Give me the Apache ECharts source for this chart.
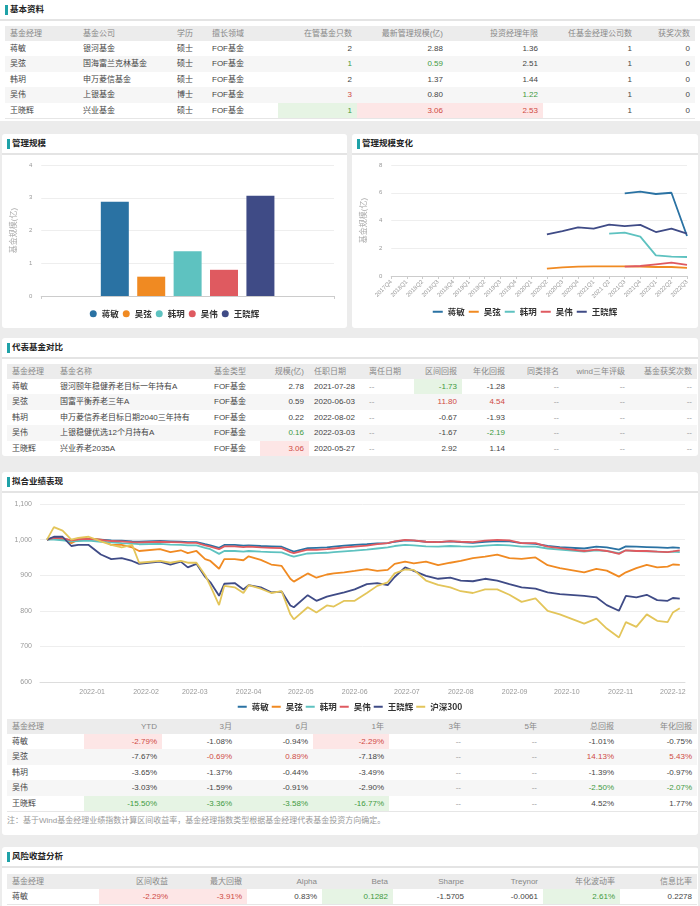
<!DOCTYPE html>
<html>
<head>
<meta charset="utf-8">
<script src="https://cdn.jsdelivr.net/npm/echarts@6/dist/echarts.min.js"></script>
<style>
body{margin:0;width:700px;height:906px;overflow:hidden;background:#ececec;position:relative;
  font-family:"Liberation Sans","Noto Sans CJK SC",sans-serif;font-size:8px;color:#444}
.panel{position:absolute;background:#fff;border-radius:3px;overflow:hidden}
.title{position:absolute;left:0;top:0;right:0;height:19px;line-height:19px;border-bottom:2px solid #e4e4e4;
  padding-left:10px;font-weight:bold;font-size:8.5px;color:#222}
.title:before{content:"";position:absolute;left:5px;top:5px;width:3px;height:10px;background:#1fa2a8}
table{position:absolute;left:5px;border-collapse:collapse;table-layout:fixed;border-bottom:1px solid #e6e6e6}
th,td{padding:0 5px;white-space:nowrap;overflow:hidden;font-weight:normal}
th{background:#ececec;color:#888;height:15px;line-height:15px}
td{height:15.4px;line-height:15.4px;color:#444}
tbody tr:nth-child(even) td{background:#f6f6f6}
.r{text-align:right}.l{text-align:left}
table td.up{background:#fde6e6;color:#cf4a44}
table td.dn{background:#e6f4e4;color:#3f9a3f}
table td.na{color:#999}
.chart{position:absolute;left:0}
.note{position:absolute;left:5px;color:#999;font-size:8px}
</style>
</head>
<body>

<div class="panel" style="left:0;top:0;width:700px;height:121px;border-radius:0">
  <div class="title">基本资料</div>
  <table id="t1" style="top:26px"></table>
</div>

<div class="panel" style="left:2px;top:134px;width:345px;height:194px">
  <div class="title">管理规模</div>
  <div id="bar" class="chart" style="top:20px;width:345px;height:174px"></div>
</div>

<div class="panel" style="left:352px;top:134px;width:346px;height:194px">
  <div class="title">管理规模变化</div>
  <div id="scale" class="chart" style="top:20px;width:346px;height:174px"></div>
</div>

<div class="panel" style="left:2px;top:338px;width:696px;height:118px">
  <div class="title">代表基金对比</div>
  <table id="t2" style="top:26px"></table>
</div>

<div class="panel" style="left:2px;top:472px;width:696px;height:363px">
  <div class="title">拟合业绩表现</div>
  <div id="perf" class="chart" style="top:21px;width:696px;height:226px"></div>
  <table id="t3" style="top:247px"></table>
  <div class="note" style="top:342px">注：基于Wind基金经理业绩指数计算区间收益率，基金经理指数类型根据基金经理代表基金投资方向确定。</div>
</div>

<div class="panel" style="left:2px;top:847px;width:696px;height:70px">
  <div class="title">风险收益分析</div>
  <table id="t4" style="top:27px"></table>
</div>

<script>
// ---- 基本资料 ----
var managers = ['蒋敏', '吴弦', '韩玥', '吴伟', '王晓辉'];
var companies = ['银河基金', '国海富兰克林基金', '申万菱信基金', '上银基金', '兴业基金'];
var education = ['硕士', '硕士', '硕士', '博士', '硕士'];
var fields = ['FOF基金', 'FOF基金', 'FOF基金', 'FOF基金', 'FOF基金'];
var fundCount = [2, 1, 2, 3, 1];
var latestScale = [2.88, 0.59, 1.37, 0.80, 3.06];
var tenureYears = [1.36, 2.51, 1.44, 1.22, 2.53];
var companyCount = [1, 1, 1, 1, 1];
var awards = [0, 0, 0, 0, 0];

// ---- 代表基金对比 ----
var repFunds = ['银河颐年稳健养老目标一年持有A', '国富平衡养老三年A', '申万菱信养老目标日期2040三年持有', '上银稳健优选12个月持有A', '兴业养老2035A'];
var repTypes = ['FOF基金', 'FOF基金', 'FOF基金', 'FOF基金', 'FOF基金'];
var repScale = [2.78, 0.59, 0.22, 0.16, 3.06];
var repStart = ['2021-07-28', '2020-06-03', '2022-08-02', '2022-03-03', '2020-05-27'];
var repPeriodRet = [-1.73, 11.80, -0.67, -1.67, 2.92];
var repAnnualRet = [-1.28, 4.54, -1.93, -2.19, 1.14];

// ---- 拟合业绩表现 表格 (%) ----
var retYTD = [-2.79, -7.67, -3.65, -3.03, -15.50];
var ret3M = [-1.08, -0.69, -1.37, -1.59, -3.36];
var ret6M = [-0.94, 0.89, -0.44, -0.91, -3.58];
var ret1Y = [-2.29, -7.18, -3.49, -2.90, -16.77];
var retTotal = [-1.01, 14.13, -1.39, -2.50, 4.52];
var retAnnual = [-0.75, 5.43, -0.97, -2.07, 1.77];

// ---- 风险收益分析 ----
var riskHeaders = ['基金经理', '区间收益', '最大回撤', 'Alpha', 'Beta', 'Sharpe', 'Treynor', '年化波动率', '信息比率'];
var riskRow = ['蒋敏', '-2.29%', '-3.91%', '0.83%', '0.1282', '-1.5705', '-0.0061', '2.61%', '0.2278'];
var riskMarks = ['', 'up', 'up', '', 'dn', '', '', 'dn', ''];

// ---- 管理规模变化 (亿) ----
var quarters = ['2017Q4', '2018Q1', '2018Q2', '2018Q3', '2018Q4', '2019Q1', '2019Q2', '2019Q3', '2019Q4', '2020Q1',
  '2020Q2', '2020Q3', '2020Q4', '2021Q1', '2021 Q2', '2021Q3', '2021Q4', '2022Q1', '2022Q2', '2022Q3'];
var histJiangMin = [null, null, null, null, null, null, null, null, null, null, null, null, null, null, null, 5.95, 6.08, 5.91, 6.00, 2.88];
var histWuXian = [null, null, null, null, null, null, null, null, null, null, 0.53, 0.62, 0.67, 0.70, 0.70, 0.70, 0.67, 0.65, 0.65, 0.59];
var histHanYue = [null, null, null, null, null, null, null, null, null, null, null, null, null, null, 3.05, 3.12, 2.84, 1.49, 1.39, 1.37];
var histWuWei = [null, null, null, null, null, null, null, null, null, null, null, null, null, null, null, 0.67, 0.72, 0.84, 0.96, 0.80];
var histWang = [null, null, null, null, null, null, null, null, null, null, 3.00, 3.24, 3.50, 3.41, 3.70, 3.60, 3.68, 3.17, 3.41, 3.06];

// ---- 拟合业绩表现 曲线 ----
var perfDates = ['2021-12-06', '2021-12-10', '2021-12-15', '2021-12-20', '2021-12-24', '2021-12-30', '2022-01-06', '2022-01-12',
  '2022-01-18', '2022-01-24', '2022-01-28', '2022-02-09', '2022-02-15', '2022-02-21', '2022-02-25', '2022-03-02', '2022-03-07',
  '2022-03-10', '2022-03-15', '2022-03-18', '2022-03-24', '2022-03-29', '2022-04-01', '2022-04-08', '2022-04-14', '2022-04-20',
  '2022-04-25', '2022-04-27', '2022-05-05', '2022-05-10', '2022-05-16', '2022-05-20', '2022-05-26', '2022-06-01', '2022-06-08',
  '2022-06-14', '2022-06-20', '2022-06-24', '2022-06-30', '2022-07-05', '2022-07-12', '2022-07-19', '2022-07-26', '2022-08-01',
  '2022-08-08', '2022-08-15', '2022-08-22', '2022-08-29', '2022-09-05', '2022-09-13', '2022-09-20', '2022-09-27', '2022-10-11',
  '2022-10-18', '2022-10-24', '2022-10-31', '2022-11-04', '2022-11-10', '2022-11-16', '2022-11-22', '2022-11-28', '2022-12-01',
  '2022-12-05'];
var perfJiangMin = [1000, 1003, 1002, 998, 1000, 1002, 1000, 998, 997, 995, 994, 996, 995, 994, 993, 993, 987, 984, 977, 985,
  985, 983, 984, 982, 981, 980, 970, 966, 976, 977, 978, 980, 983, 985, 987, 989, 990, 994, 998, 997,
  994, 993, 995, 993, 991, 994, 996, 995, 990, 988, 982, 979, 975, 980, 978, 972, 981, 980, 979, 978, 977, 978, 977];
var perfWuXian = [1000, 1005, 1003, 990, 1000, 1003, 1000, 985, 985, 978, 968, 973, 965, 970, 962, 968, 945, 940, 918, 945,
  945, 942, 953, 943, 930, 926, 890, 882, 905, 893, 902, 905, 908, 912, 917, 912, 915, 932, 938, 933,
  938, 928, 935, 940, 948, 952, 958, 948, 946, 950, 928, 920, 908, 918, 913, 896, 908, 920, 929, 922, 924, 930, 929];
var perfHanYue = [1000, 1000, 998, 995, 996, 997, 994, 992, 990, 989, 987, 988, 986, 985, 984, 984, 977, 973, 960, 968,
  968, 966, 968, 966, 965, 964, 955, 952, 961, 962, 963, 965, 967, 969, 972, 975, 978, 982, 985, 984,
  981, 980, 982, 981, 980, 983, 985, 984, 980, 980, 975, 972, 966, 970, 968, 962, 970, 968, 967, 966, 965, 966, 965];
var perfWuWei = [1000, 1005, 1004, 998, 1001, 1002, 999, 996, 995, 993, 992, 994, 993, 992, 991, 991, 984, 980, 973, 981,
  981, 979, 980, 978, 977, 976, 965, 962, 972, 971, 973, 975, 978, 980, 983, 987, 990, 995, 999, 998,
  994, 993, 996, 994, 993, 997, 999, 998, 990, 990, 980, 976, 968, 972, 968, 960, 970, 968, 968, 966, 965, 967, 970];
var perfWang = [1000, 1008, 1008, 982, 985, 985, 958, 945, 948, 940, 932, 938, 930, 938, 922, 932, 895, 880, 842, 876,
  878, 860, 872, 866, 852, 854, 815, 810, 844, 828, 840, 845, 852, 860, 875, 878, 872, 895, 922, 912,
  898, 890, 893, 885, 883, 890, 885, 875, 866, 862, 852, 847, 842, 838, 816, 800, 842, 838, 845, 830, 828, 836, 834];
var perfHS300 = [1000, 1035, 1025, 1000, 1005, 1008, 995, 985, 978, 985, 935, 940, 935, 940, 935, 935, 900, 870, 816, 870,
  866, 850, 872, 862, 850, 855, 790, 776, 810, 795, 815, 812, 828, 828, 850, 870, 880, 905, 916, 915,
  885, 873, 866, 855, 850, 860, 860, 845, 825, 835, 800, 790, 764, 778, 750, 725, 768, 755, 790, 772, 768, 795, 807];

var colors = ['#2a72a3', '#f08a22', '#5ec2c0', '#df5a60', '#3f4b86', '#e3c55a'];
var cjk = '"Liberation Sans","Noto Sans CJK SC",sans-serif';

// ---------- tables ----------
function marks(arr) {
  var mx = Math.max.apply(null, arr), mn = Math.min.apply(null, arr);
  return arr.map(function (v) {
    if (mx === mn) return '';
    return v === mx ? 'up' : (v === mn ? 'dn' : '');
  });
}
function dash() { return managers.map(function () { return '--'; }); }
function fix(arr, d, suffix) { return arr.map(function (v) { return v.toFixed(d) + (suffix || ''); }); }

// cols: [header, align, values, marks]
function buildTable(id, widths, cols, rowCount) {
  var html = '<colgroup>' + widths.map(function (w) { return '<col style="width:' + w + 'px">'; }).join('') + '</colgroup>';
  html += '<thead><tr>' + cols.map(function (c) { return '<th class="' + c[1] + '">' + c[0] + '</th>'; }).join('') + '</tr></thead><tbody>';
  for (var i = 0; i < rowCount; i++) {
    html += '<tr>';
    cols.forEach(function (c) {
      var v = c[2][i], cls = c[1];
      if (c[3] && c[3][i]) cls += ' ' + c[3][i];
      if (v === '--') cls += ' na';
      html += '<td class="' + cls + '">' + v + '</td>';
    });
    html += '</tr>';
  }
  html += '</tbody>';
  var t = document.getElementById(id);
  t.innerHTML = html;
  t.style.width = widths.reduce(function (a, b) { return a + b; }, 0) + 'px';
}

buildTable('t1', [73, 94, 35, 71, 79, 91, 95, 94, 58], [
  ['基金经理', 'l', managers],
  ['基金公司', 'l', companies],
  ['学历', 'l', education],
  ['擅长领域', 'l', fields],
  ['在管基金只数', 'r', fundCount.map(String), marks(fundCount)],
  ['最新管理规模(亿)', 'r', fix(latestScale, 2), marks(latestScale)],
  ['投资经理年限', 'r', fix(tenureYears, 2), marks(tenureYears)],
  ['任基金经理公司数', 'r', companyCount.map(String), marks(companyCount)],
  ['获奖次数', 'r', awards.map(String)]
], 5);

buildTable('t2', [48, 154, 51, 49, 55, 50, 48, 48, 54, 66, 67], [
  ['基金经理', 'l', managers],
  ['基金名称', 'l', repFunds],
  ['基金类型', 'l', repTypes],
  ['规模(亿)', 'r', fix(repScale, 2), marks(repScale)],
  ['任职日期', 'l', repStart],
  ['离任日期', 'l', dash()],
  ['区间回报', 'r', fix(repPeriodRet, 2), marks(repPeriodRet)],
  ['年化回报', 'r', fix(repAnnualRet, 2), marks(repAnnualRet)],
  ['同类排名', 'r', dash()],
  ['wind三年评级', 'r', dash()],
  ['基金获奖次数', 'r', dash()]
], 5);

buildTable('t3', [77, 78, 75, 76, 76, 77, 76, 77, 78], [
  ['基金经理', 'l', managers],
  ['YTD', 'r', fix(retYTD, 2, '%'), marks(retYTD)],
  ['3月', 'r', fix(ret3M, 2, '%'), marks(ret3M)],
  ['6月', 'r', fix(ret6M, 2, '%'), marks(ret6M)],
  ['1年', 'r', fix(ret1Y, 2, '%'), marks(ret1Y)],
  ['3年', 'r', dash()],
  ['5年', 'r', dash()],
  ['总回报', 'r', fix(retTotal, 2, '%'), marks(retTotal)],
  ['年化回报', 'r', fix(retAnnual, 2, '%'), marks(retAnnual)]
], 5);

buildTable('t4', [92, 74, 74, 75, 71, 76, 74, 77, 77], riskHeaders.map(function (h, j) {
  return [h, j === 0 ? 'l' : 'r', [riskRow[j]], [riskMarks[j]]];
}), 1);

var legendText = { fontSize: 8.5, fontWeight: 'bold', color: '#333', fontFamily: '"Noto Sans CJK SC"' };

// ---------- 管理规模 bar ----------
var barChart = echarts.init(document.getElementById('bar'));
barChart.setOption({
  animation: false,
  color: colors,
  textStyle: { fontFamily: cjk },
  grid: { left: 37, right: 13, top: 11, bottom: 32 },
  legend: {
    data: managers, bottom: 5, left: 'center', icon: 'circle',
    itemWidth: 7, itemHeight: 7, itemGap: 4, textStyle: legendText
  },
  xAxis: {
    type: 'category', data: [''],
    axisLine: { lineStyle: { color: '#ccc' } },
    axisTick: { show: true, length: 3, lineStyle: { color: '#ccc' } },
    axisLabel: { show: false }
  },
  yAxis: {
    type: 'value', min: 0, max: 4, interval: 1,
    name: '基金规模(亿)', nameLocation: 'middle', nameGap: 15,
    nameTextStyle: { color: '#aaa', fontSize: 8 },
    axisLabel: { fontSize: 6, color: '#999', margin: 9 },
    splitLine: { lineStyle: { color: '#eee' } }
  },
  series: managers.map(function (m, i) {
    return { name: m, type: 'bar', data: [latestScale[i]], barWidth: 28, barGap: '30%' };
  })
});

// ---------- 管理规模变化 line ----------
var hist = [histJiangMin, histWuXian, histHanYue, histWuWei, histWang];
var scaleChart = echarts.init(document.getElementById('scale'));
scaleChart.setOption({
  animation: false,
  color: colors,
  textStyle: { fontFamily: cjk },
  grid: { left: 38, right: 11, top: 11, bottom: 52 },
  legend: {
    data: managers, bottom: 7, left: 'center', icon: 'rect',
    itemWidth: 10, itemHeight: 2, itemGap: 4, textStyle: legendText
  },
  xAxis: {
    type: 'category', data: quarters, boundaryGap: false,
    axisLine: { lineStyle: { color: '#ccc' } },
    axisTick: { lineStyle: { color: '#ccc' }, length: 3 },
    axisLabel: { interval: 0, rotate: 45, fontSize: 6, color: '#999', margin: 5 }
  },
  yAxis: {
    type: 'value', min: 0, max: 8, interval: 2,
    name: '基金规模(亿)', nameLocation: 'middle', nameGap: 17,
    nameTextStyle: { color: '#aaa', fontSize: 8 },
    axisLabel: { fontSize: 6, color: '#999', margin: 9 },
    splitLine: { lineStyle: { color: '#eee' } }
  },
  series: managers.map(function (m, i) {
    return { name: m, type: 'line', data: hist[i], symbol: 'none', lineStyle: { width: 1.8 } };
  })
});

// ---------- 拟合业绩表现 ----------
var perfNames = ['蒋敏', '吴弦', '韩玥', '吴伟', '王晓辉', '沪深300'];
var perfSeries = [perfJiangMin, perfWuXian, perfHanYue, perfWuWei, perfWang, perfHS300];
function pad2(n) { return n < 10 ? '0' + n : '' + n; }
var perfChart = echarts.init(document.getElementById('perf'));
perfChart.setOption({
  animation: false,
  color: colors,
  textStyle: { fontFamily: cjk },
  grid: { left: 38, right: 13, top: 11, bottom: 37 },
  legend: {
    data: perfNames, bottom: 3, left: 'center', icon: 'rect',
    itemWidth: 9, itemHeight: 2, itemGap: 3, textStyle: legendText
  },
  xAxis: {
    type: 'time',
    min: new Date(2021, 11, 2).getTime(),
    max: new Date(2022, 11, 8).getTime(),
    splitNumber: 12,
    axisLine: { lineStyle: { color: '#ddd' } },
    axisTick: { show: false },
    splitLine: { show: false },
    axisLabel: {
      fontSize: 7, color: '#999', margin: 7,
      formatter: function (v) { var d = new Date(v); return d.getFullYear() + '-' + pad2(d.getMonth() + 1); }
    }
  },
  yAxis: {
    type: 'value', min: 600, max: 1100, interval: 100,
    axisLabel: {
      fontSize: 7, color: '#999', margin: 8,
      formatter: function (v) { return v >= 1000 ? Math.floor(v / 1000) + ',' + String(v % 1000).padStart(3, '0') : String(v); }
    },
    splitLine: { lineStyle: { color: '#eee' } }
  },
  series: perfNames.map(function (n, i) {
    return {
      name: n, type: 'line', symbol: 'none', lineStyle: { width: 1.8 },
      data: perfDates.map(function (d, k) { return [d, perfSeries[i][k]]; })
    };
  })
});
</script>
</body>
</html>
